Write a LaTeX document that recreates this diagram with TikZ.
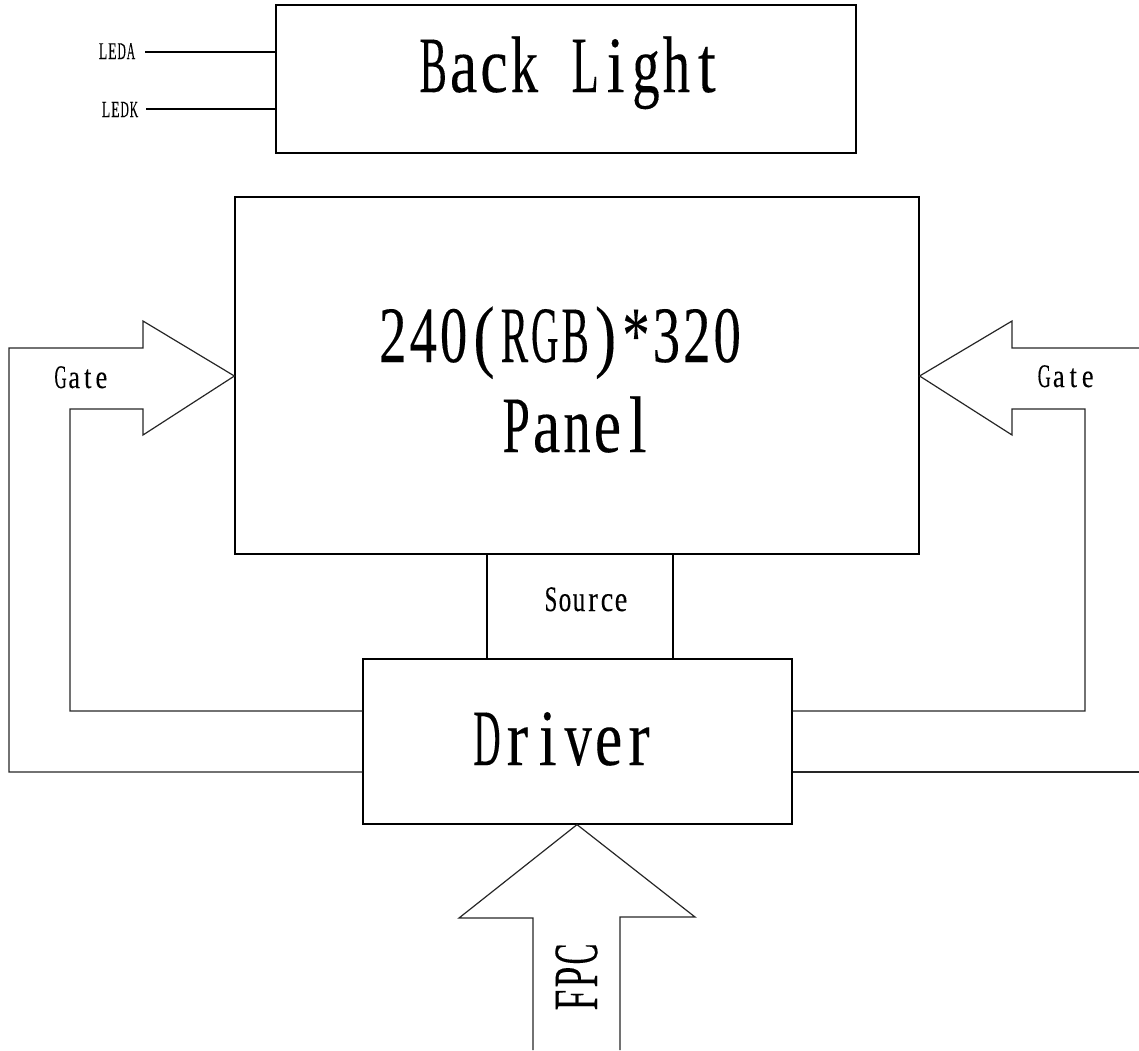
\documentclass[tikz,border=0pt]{standalone}
\usepackage{fontspec}
\usepackage{graphicx}
\setmainfont{Liberation Serif}
\newfontfamily\simfont[FakeStretch=0.8,FakeBold=0.15]{Liberation Serif}
\makeatletter
\newdimen\mtcw \newdimen\mtmax
\newcommand\mtcell[1]{\sbox0{#1}\ifdim\wd0>\mtmax
  \makebox[\mtcw][c]{\resizebox{\mtmax}{\height}{#1}}\else\makebox[\mtcw][c]{#1}\fi}
\newcommand\monotxt[2]{\mtcw=#1\relax\mtmax=0.9\mtcw\@tfor\mt@ch:=#2\do{\expandafter\mtcell\expandafter{\mt@ch}}}
\makeatother
\begin{document}
\begin{tikzpicture}[x=1pt,y=-1pt,
  box/.style={draw=black,line width=1.2pt,inner sep=0pt},
  wire/.style={draw=black!85,line width=1.2pt},
  lbl/.style={inner sep=0pt,anchor=base,font=\simfont}]
\useasboundingbox (0,0) rectangle (1139,1050);
% boxes
\node[box,minimum width=580pt,minimum height=148pt] (bl) at (566,79) {};
\node[box,minimum width=684pt,minimum height=357pt] (pnl) at (577,375.5) {};
\node[box,minimum width=429pt,minimum height=165pt] (drv) at (577.5,741.5) {};
% texts
\node[lbl,font=\simfont\fontsize{80}{80}\selectfont] (tbl) at (570,92) {\monotxt{30.4pt}{Back{\ }Light}};
\node[lbl,font=\simfont\fontsize{80}{80}\selectfont] (tres) at (560,362) {\monotxt{30.4pt}{240(RGB)*320}};
\node[lbl,font=\simfont\fontsize{80}{80}\selectfont] (tpan) at (577,452) {\monotxt{30.4pt}{Panel}};
\node[lbl,font=\simfont\fontsize{80}{80}\selectfont] (tdrv) at (563,765) {\monotxt{30.4pt}{Driver}};
\node[lbl,font=\simfont\fontsize{33}{33}\selectfont] (tgl) at (81,388) {\monotxt{13.6pt}{Gate}};
\node[lbl,font=\simfont\fontsize{33}{33}\selectfont] (tgr) at (1066,387) {\monotxt{14.5pt}{Gate}};
\node[lbl,font=\simfont\fontsize{36}{36}\selectfont] (tsrc) at (586,611) {\monotxt{14pt}{Source}};
\node[lbl,font=\simfont\fontsize{24}{24}\selectfont] (tleda) at (117,59) {\monotxt{9.3pt}{LEDA}};
\node[lbl,font=\simfont\fontsize{23}{23}\selectfont] (tledk) at (120,117) {\monotxt{9.3pt}{LEDK}};
\node[lbl,font=\simfont\fontsize{63}{63}\selectfont,rotate=90] (tfpc) at (597,977) {\monotxt{23pt}{FPC}};
% LED wires
\coordinate (la) at (145,52);
\coordinate (lk) at (146,109);
\draw[wire,draw=black] (la) -- (la -| bl.west);
\draw[wire,draw=black] (lk) -- (lk -| bl.west);
% source lines
\draw[box] (pnl.south -| 487,0) -- (drv.north -| 487,0);
\draw[box] (pnl.south -| 673,0) -- (drv.north -| 673,0);
% left gate arrow
\draw[wire] (drv.west |- 0,772) -- (9,772) -- (9,348) -- (143,348) -- (143,321)
  -- (pnl.west |- 0,376) -- (143,435) -- (143,409) -- (70,409) -- (70,711)
  -- (drv.west |- 0,711);
% right gate arrow
\draw[wire] (1139,348) -- (1012,348) -- (1012,321) -- (pnl.east |- 0,376)
  -- (1012,435) -- (1012,409) -- (1085,409) -- (1085,711) -- (drv.east |- 0,711);
\draw[wire] (drv.east |- 0,772) -- (1139,772);
% FPC arrow
\draw[wire] (533,1050) -- (533,918) -- (459,918) -- (drv.south -| 577,0)
  -- (695,917) -- (620,917) -- (620,1050);
\end{tikzpicture}
\end{document}
